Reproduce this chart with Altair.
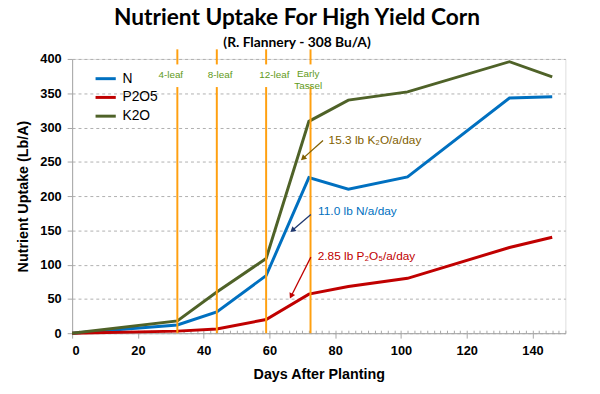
import altair as alt
import pandas as pd

# ---- data ----
days = [0, 32, 44, 59, 72, 84, 102, 133, 146]
n_vals = [0, 12, 31, 84, 227, 210, 228, 343, 345]
p_vals = [0, 3, 6, 20, 57, 68, 80, 125, 140]
k_vals = [0, 18, 60, 109, 309, 340, 352, 396, 374]
series_names = ["N", "P2O5", "K2O"]
series_colors = ["#0070c0", "#c00000", "#4f6228"]

stage_days = [32, 44, 59, 72.5]
stage_label_x = [30, 45, 61.5, 71.8]
stage_labels = ["4-leaf", "8-leaf", "12-leaf", "Early\nTassel"]
stage_label_y = [377, 377, 377, 378]
stage_low_top = 359
stage_high_bottom = 392
stage_high_top = 414

ann_text = ["15.3 lb K\u2082O/a/day", "11.0 lb N/a/day", "2.85 lb P\u2082O\u2085/a/day"]
ann_x = [78, 74.8, 74.7]
ann_y = [281, 178, 113]
ann_color = ["#7f6000", "#0070c0", "#c00000"]
arrow_x1 = [76.3, 72.6, 72.6]
arrow_y1 = [281, 173, 111]
arrow_x2 = [70.2, 67.0, 66.6]
arrow_y2 = [255, 150, 54]
arrow_color = ["#806000", "#1f3870", "#c00000"]
arrow_angle = [228, 229, 206]

rows = []
for name, vals in zip(series_names, [n_vals, p_vals, k_vals]):
    for d, v in zip(days, vals):
        rows.append({"day": d, "value": v, "series": name})
df = pd.DataFrame(rows)

stage_df = pd.DataFrame({
    "day": stage_days,
    "lx": stage_label_x,
    "label": stage_labels,
    "ly": stage_label_y,
    "y0": [0] * 4,
    "y1": [stage_low_top] * 4,
    "y2": [stage_high_bottom] * 4,
    "y3": [stage_high_top] * 4,
})
ann_df = pd.DataFrame({"text": ann_text, "x": ann_x, "y": ann_y, "color": ann_color})
arrow_df = pd.DataFrame({"x1": arrow_x1, "y1": arrow_y1, "x2": arrow_x2, "y2": arrow_y2,
                         "color": arrow_color, "angle": arrow_angle})

AX = "Liberation Sans"
xscale = alt.Scale(domain=[0, 150], nice=False)
yscale = alt.Scale(domain=[0, 400], nice=False)

x_axis = alt.Axis(values=list(range(0, 141, 20)), title="Days After Planting", grid=False,
                  labelFont=AX, labelFontWeight="bold", labelFontSize=13, labelColor="black",
                  titleFont=AX, titleFontWeight="bold", titleFontSize=14.5, titleColor="black",
                  titlePadding=10, labelPadding=7, tickSize=5, tickColor="#a6a6a6",
                  domainColor="#a6a6a6", orient="bottom")
y_axis = alt.Axis(values=list(range(0, 401, 50)), title="Nutrient Uptake (Lb/A)",
                  labelFont=AX, labelFontWeight="bold", labelFontSize=13, labelColor="black",
                  labelOverlap=False,
                  titleFont=AX, titleFontWeight="bold", titleFontSize=14.5, titleColor="black",
                  titlePadding=10, labelPadding=6, tickSize=5, tickColor="#a6a6a6",
                  domainColor="#a6a6a6", grid=True, gridColor="#b0b0b0", gridDash=[3, 3],
                  gridWidth=1)

lines = alt.Chart(df).mark_line(strokeWidth=3).encode(
    x=alt.X("day:Q", scale=xscale, axis=x_axis),
    y=alt.Y("value:Q", scale=yscale, axis=y_axis),
    color=alt.Color("series:N",
                    scale=alt.Scale(domain=series_names, range=series_colors),
                    legend=alt.Legend(title=None, orient="none", legendX=22, legendY=8,
                                      symbolType="stroke", symbolSize=420, symbolStrokeWidth=3,
                                      labelFont=AX, labelFontSize=14, labelColor="black",
                                      rowPadding=0, padding=0, labelOffset=5)),
    order="day:Q",
)

rule_low = alt.Chart(stage_df).mark_rule(color="#ffa010", strokeWidth=2).encode(
    x=alt.X("day:Q", scale=xscale, axis=x_axis),
    y=alt.Y("y0:Q", scale=yscale, axis=y_axis), y2="y1:Q")
rule_high = alt.Chart(stage_df).mark_rule(color="#ffa010", strokeWidth=2).encode(
    x=alt.X("day:Q", scale=xscale, axis=x_axis),
    y=alt.Y("y2:Q", scale=yscale, axis=y_axis), y2="y3:Q")
stage_text = alt.Chart(stage_df).mark_text(font=AX, fontSize=10, color="#5f9a20",
                                           baseline="middle", lineBreak="\n",
                                           lineHeight=12).encode(
    x=alt.X("lx:Q", scale=xscale, axis=x_axis),
    y=alt.Y("ly:Q", scale=yscale, axis=y_axis), text="label:N")

ann = alt.Chart(ann_df).mark_text(font=AX, fontSize=12, align="left", baseline="middle").encode(
    x=alt.X("x:Q", scale=xscale, axis=x_axis),
    y=alt.Y("y:Q", scale=yscale, axis=y_axis), text="text:N",
    color=alt.Color("color:N", scale=None))

arrow_line = alt.Chart(arrow_df).mark_rule(strokeWidth=1.3).encode(
    x=alt.X("x1:Q", scale=xscale, axis=x_axis),
    y=alt.Y("y1:Q", scale=yscale, axis=y_axis), x2="x2:Q", y2="y2:Q",
    color=alt.Color("color:N", scale=None))
arrow_head = alt.Chart(arrow_df).mark_point(shape="triangle-up", filled=True, size=40,
                                            opacity=1).encode(
    x=alt.X("x2:Q", scale=xscale, axis=x_axis),
    y=alt.Y("y2:Q", scale=yscale, axis=y_axis),
    angle=alt.Angle("angle:Q", scale=None),
    color=alt.Color("color:N", scale=None))

base = alt.layer(lines, rule_low, rule_high, stage_text, ann, arrow_line, arrow_head)

minor = alt.Chart(pd.DataFrame({"day": days})).mark_point(opacity=0).encode(
    x=alt.X("day:Q", scale=xscale,
            axis=alt.Axis(values=list(range(0, 151, 2)), labels=False, title=None,
                          domain=False, grid=False, tickSize=3, tickColor="#a6a6a6",
                          orient="bottom", offset=-3)),
)

chart = alt.layer(base, minor).resolve_scale(x="independent", color="independent").resolve_axis(
    x="independent").properties(
    width=500, height=278,
    title=alt.Title("Nutrient Uptake For High Yield Corn", subtitle="(R. Flannery - 308 Bu/A)",
                    font="Lato", fontSize=23, fontWeight="bold", color="black",
                    subtitleFont="Lato", subtitleFontSize=14, subtitleFontWeight="bold",
                    subtitleColor="black", anchor="middle", frame="group", dx=-22,
                    offset=-2, subtitlePadding=7),
    autosize=alt.AutoSizeParams(type="none"),
    padding={"left": 65, "top": 49, "right": 27, "bottom": 59},
).configure_view(stroke=None).configure(background="white")

chart.save("out.html", embed_options={"renderer": "svg", "actions": False})
